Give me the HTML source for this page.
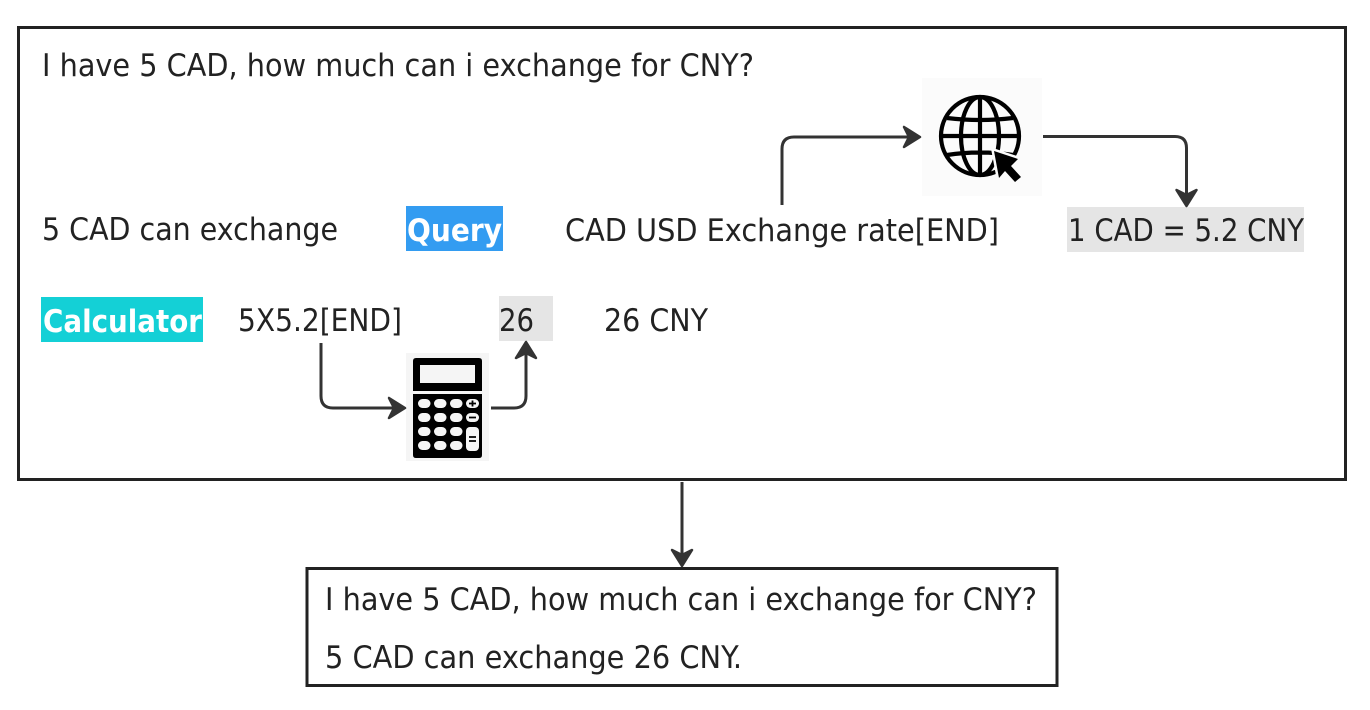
<!DOCTYPE html>
<html><head><meta charset="utf-8"><style>html,body{margin:0;padding:0;background:#fff}svg{display:block}text{font-family:"DejaVu Sans","Liberation Sans",sans-serif;font-size:31px;fill:#222}</style></head>
<body><svg width="1370" height="710" viewBox="0 0 1370 710" xmlns="http://www.w3.org/2000/svg">
<defs><g id="ah"><path d="M-1 0L-17 -10L-12 0L-17 10Z" fill="#333" stroke="#333" stroke-width="2.500" stroke-linejoin="round"/></g></defs>
<rect x="18.500" y="27.500" width="1327" height="452" fill="#fff" stroke="#222" stroke-width="3"/>
<rect x="307" y="568.500" width="750" height="117" fill="#fff" stroke="#222" stroke-width="3"/>
<rect x="406" y="206" width="97" height="45" fill="#339cf1"/>
<rect x="1067" y="207" width="237" height="45" fill="#e5e5e5"/>
<rect x="41" y="297" width="162" height="45" fill="#14d0d6"/>
<rect x="499" y="296" width="54" height="45" fill="#e5e5e5"/>
<text x="42" y="76" textLength="712" lengthAdjust="spacingAndGlyphs">I have 5 CAD, how much can i exchange for CNY?</text>
<text x="42" y="240" textLength="296" lengthAdjust="spacingAndGlyphs">5 CAD can exchange</text>
<text x="407" y="241" textLength="95" lengthAdjust="spacingAndGlyphs" font-weight="700" style="fill:#fff">Query</text>
<text x="565" y="241" textLength="434" lengthAdjust="spacingAndGlyphs">CAD USD Exchange rate[END]</text>
<text x="1068" y="241" textLength="236" lengthAdjust="spacingAndGlyphs">1 CAD = 5.2 CNY</text>
<text x="43" y="332" textLength="159" lengthAdjust="spacingAndGlyphs" font-weight="700" style="fill:#fff">Calculator</text>
<text x="238" y="331" textLength="164" lengthAdjust="spacingAndGlyphs">5X5.2[END]</text>
<text x="499" y="331" textLength="35" lengthAdjust="spacingAndGlyphs">26</text>
<text x="604" y="331" textLength="104" lengthAdjust="spacingAndGlyphs">26 CNY</text>
<text x="325" y="610" textLength="712" lengthAdjust="spacingAndGlyphs">I have 5 CAD, how much can i exchange for CNY?</text>
<text x="325" y="668" textLength="417" lengthAdjust="spacingAndGlyphs">5 CAD can exchange 26 CNY.</text>
<rect x="922" y="78" width="120" height="118" fill="#fbfbfb"/>
<g fill="none" stroke="#000" stroke-width="4.200">
<circle cx="980" cy="136" r="39"/>
<ellipse cx="980" cy="136" rx="19" ry="39"/>
<path d="M980 97V175M941 136H1019M947 118Q980 122 1013 118M947 155Q980 150 1013 155"/>
</g>
<path d="M994 151L1018 159L1011 166L1021 177L1015 182L1005 171L999 178Z" fill="#000" stroke="#fbfbfb" stroke-width="5" paint-order="stroke"/>
<rect x="406" y="353" width="83" height="108" fill="#f5f5f5"/>
<path d="M413 391V361Q413 358 416 358H479Q482 358 482 361V391Z" fill="#000"/>
<rect x="420" y="365" width="55" height="18" fill="#f5f5f5"/>
<path d="M413 394H482V455Q482 458 479 458H416Q413 458 413 455Z" fill="#000"/>
<g fill="#f5f5f5">
<rect x="418" y="399" width="12.500" height="9" rx="4.500"/><rect x="434" y="399" width="12.500" height="9" rx="4.500"/><rect x="450" y="399" width="12.500" height="9" rx="4.500"/><rect x="466" y="399" width="13" height="9" rx="4.500"/>
<rect x="418" y="413" width="12.500" height="9" rx="4.500"/><rect x="434" y="413" width="12.500" height="9" rx="4.500"/><rect x="450" y="413" width="12.500" height="9" rx="4.500"/><rect x="466" y="413" width="13" height="9" rx="4.500"/>
<rect x="418" y="427" width="12.500" height="9" rx="4.500"/><rect x="434" y="427" width="12.500" height="9" rx="4.500"/><rect x="450" y="427" width="12.500" height="9" rx="4.500"/>
<rect x="418" y="441" width="12.500" height="9" rx="4.500"/><rect x="434" y="441" width="12.500" height="9" rx="4.500"/><rect x="450" y="441" width="12.500" height="9" rx="4.500"/>
<rect x="466" y="427" width="13" height="24" rx="4"/>
</g>
<path d="M469 403.500H476M472.500 400.500V406.500M469 417.500H476M469 437H476M469 441H476" stroke="#000" stroke-width="1.800"/>
<g fill="none" stroke="#333" stroke-width="3">
<path d="M782 205V149Q782 137 794 137H908"/>
<path d="M1043 136.500H1175Q1186.500 136.500 1186.500 148V194"/>
<path d="M321 343V396Q321 408 333 408H394"/>
<path d="M491 408H514Q526 408 526 396V354"/>
<path d="M682 482V554"/>
</g>
<use href="#ah" transform="translate(921 137)"/>
<use href="#ah" transform="translate(1186.500 207) rotate(90)"/>
<use href="#ah" transform="translate(406 408)"/>
<use href="#ah" transform="translate(526 341) rotate(-90)"/>
<use href="#ah" transform="translate(682 567) rotate(90)"/>
</svg></body></html>
